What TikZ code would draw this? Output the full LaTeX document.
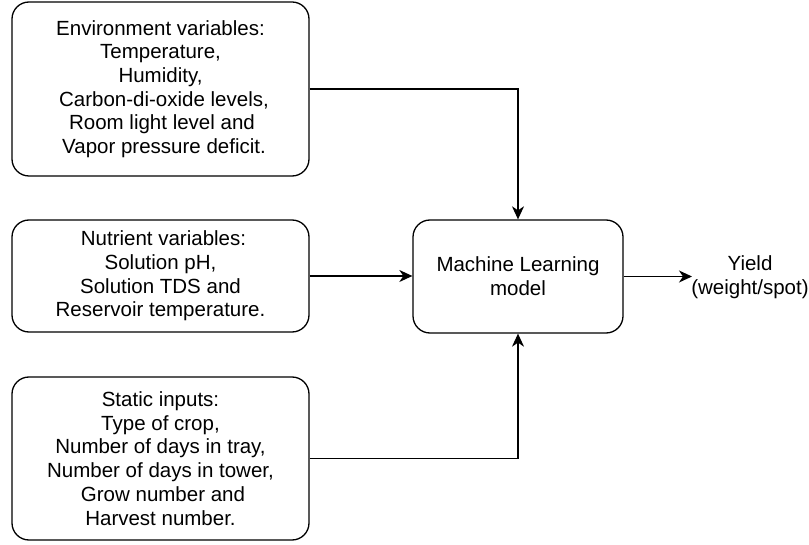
\documentclass[tikz,border=0pt]{standalone}
\usepackage{fontspec}
\setmainfont{Liberation Sans}
\usetikzlibrary{arrows.meta}
\begin{document}
\begin{tikzpicture}[x=1pt,y=-1pt,
  txt/.style={font=\fontsize{20.5}{23.7}\selectfont, align=center, inner sep=0pt},
  block/.style={txt, draw=black, line width=1.3pt, rounded corners=17pt},
  link/.style={draw=black, line width=1.3pt, -{Stealth[length=13pt,width=12pt,inset=4pt]}}]
  \useasboundingbox (0,0) rectangle (809,545);

  % input groups
  \node[block, minimum width=297pt, minimum height=174pt] (env) at (160.5,89)
    {Environment variables:\\
     Temperature,\hspace*{19pt}\\
     Humidity,\hspace*{20pt}\\
     \hspace*{7pt}Carbon-di-oxide levels,\\
     \hspace*{3pt}Room light level and\\
     \hspace*{7pt}Vapor pressure deficit.};
  \node[block, minimum width=297pt, minimum height=112pt] (nut) at (160.5,276)
    {\hspace*{6pt}Nutrient variables:\\
     Solution pH,\\
     Solution TDS and\\
     Reservoir temperature.};
  \node[block, minimum width=297pt, minimum height=163pt] (stat) at (160.5,458.5)
    {Static inputs:\\
     Type of crop,\\
     Number of days in tray,\\
     Number of days in tower,\\
     \hspace*{5pt}Grow number and\\
     Harvest number.};

  % model and output
  \node[block, minimum width=210pt, minimum height=113pt] (ml) at (518,276.5)
    {Machine Learning\\model};
  \coordinate (out) at (692,276.5);
  \node[txt] (yield) at (750,277) {Yield\\(weight/spot)};

  % connectors
  \draw[link] (env.east) -| (ml.north);
  \draw[link] (nut.east) -- (ml.west |- nut.east);
  \draw[link] (stat.east) -| (ml.south);
  \draw[link] (ml.east) -- (out);
\end{tikzpicture}
\end{document}
